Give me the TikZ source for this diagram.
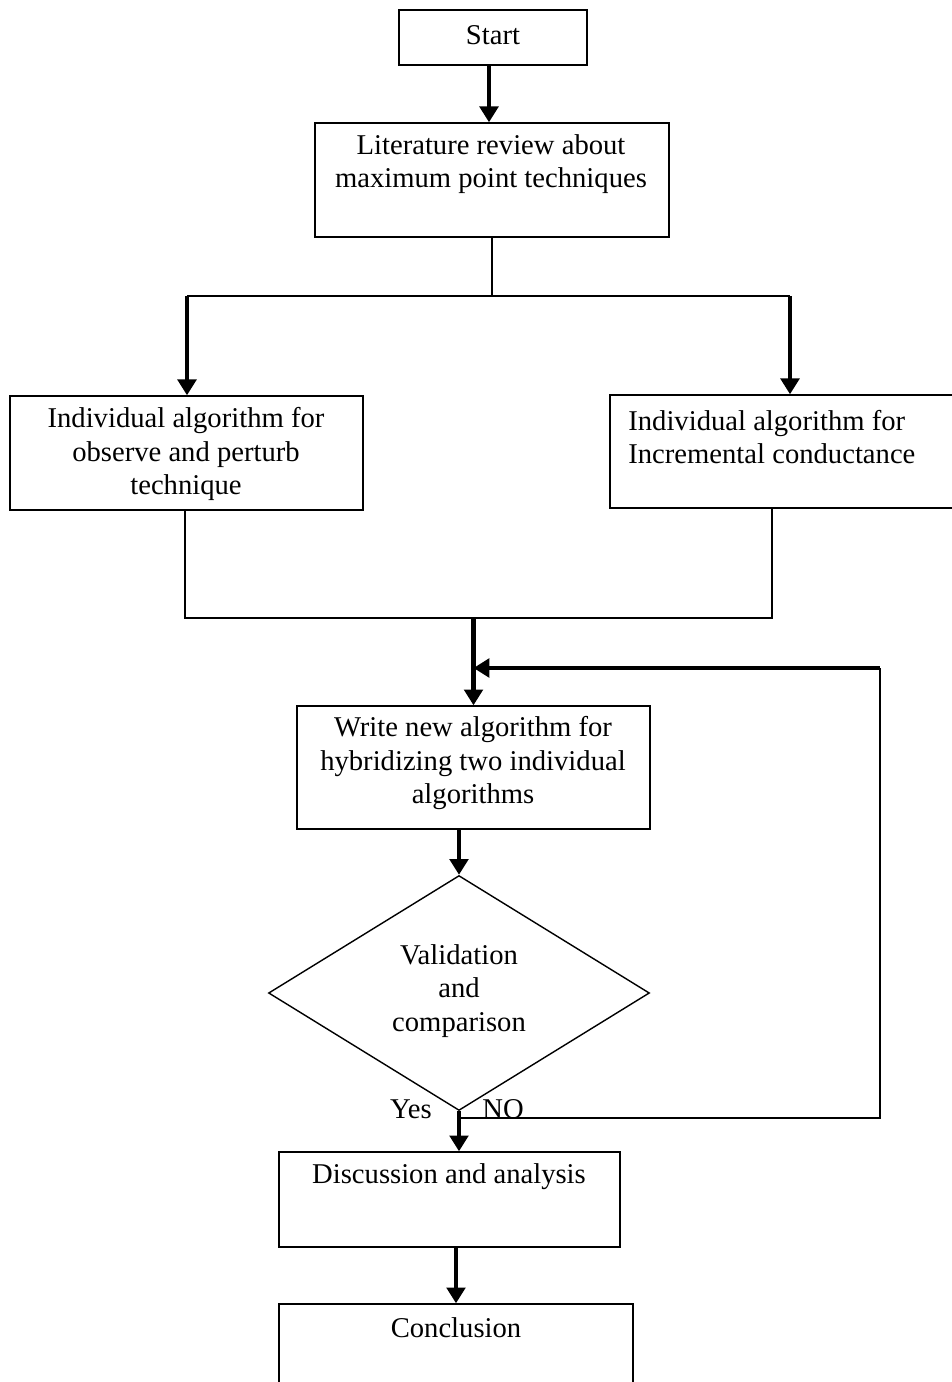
\documentclass[tikz,border=0pt]{standalone}
\usepackage{fontspec}
\setmainfont{Liberation Serif}
\usetikzlibrary{arrows.meta}
\usetikzlibrary{shapes.geometric}

\tikzset{
  box/.style={draw, line width=0.8pt, inner sep=0pt},
  txt/.style={align=center, inner sep=0pt, font=\fontsize{16.3}{18.9}\selectfont},
  flow/.style={line width=2.3pt, -{Triangle[width=10.5pt,length=9pt]}},
  link/.style={line width=0.75pt}
}

\begin{document}
\begin{tikzpicture}[x=0.02cm, y=-0.02cm]
    \useasboundingbox (0,0) rectangle (952,1382);
    \clip (0,0) rectangle (952,1382);

    % boxes
    \node[box, minimum width=3.76cm, minimum height=1.1cm] (start) at (493,37.5) {};
    \node[box, minimum width=7.08cm, minimum height=2.28cm] (lit) at (492,180) {};
    \node[box, minimum width=7.06cm, minimum height=2.28cm] (left) at (186.5,453) {};
    \node[box, minimum width=7.0cm, minimum height=2.26cm] (right) at (785,451.5) {};
    \node[box, minimum width=7.06cm, minimum height=2.46cm] (write) at (473.5,767.5) {};
    \node[box, diamond, minimum width=7.62cm, minimum height=4.7cm] (dec) at (459,993) {};
    \node[box, minimum width=6.82cm, minimum height=1.9cm] (disc) at (449.5,1199.5) {};
    \node[box, minimum width=7.08cm, minimum height=2.4cm] (concl) at (456,1364) {};

    % texts
    \node[txt] (startT) at (493,35) {Start};
    \node[txt] (litT) at (491,164) {Literature review about\\maximum point techniques};
    \node[txt] (leftT) at (186,454) {Individual algorithm for\\observe and perturb\\technique};
    \node[txt, anchor=west, align=left] (rightT) at (628,437) {Individual algorithm for\\Incremental conductance};
    \node[txt] (writeT) at (473,763) {Write new algorithm for\\hybridizing two individual\\algorithms};
    \node[txt] (decT) at (459,991) {Validation\\and\\comparison};
    \node[txt] (discT) at (449,1177) {Discussion and analysis};
    \node[txt] (conclT) at (456,1328) {Conclusion};
    \node[txt] (yes) at (411,1109) {Yes};
    \node[txt] (no) at (503,1109) {NO};

    % split and merge points
    \coordinate (splitL) at (187,296);
    \coordinate (splitR) at (790,296);
    \coordinate (mergeL) at (185,618);
    \coordinate (mergeR) at (772,618);
    \coordinate (loopB) at (880,1118);
    \coordinate (loopT) at (880,668);
    \coordinate (startOut) at (489,65);

    % connectors
    \draw[flow] (startOut) -- (startOut |- lit.north);
    \draw[link] (lit.south) -- (lit.south |- splitL);
    \draw[link] (splitL) -- (splitR);
    \draw[flow] (splitL) -- (splitL |- left.north);
    \draw[flow] (splitR) -- (splitR |- right.north);
    \draw[link] (mergeL |- left.south) -- (mergeL) -- (mergeR) -- (mergeR |- right.south);
    \draw[flow] (write.north |- mergeL) -- (write.north);
    \draw[flow] (dec.north |- write.south) -- (dec.north);
    \draw[link] (dec.south |- loopB) -- (loopB) -- (loopT);
    \draw[flow] (loopT) -- (write.north |- loopT);
    \draw[flow] (dec.south) -- (dec.south |- disc.north);
    \draw[flow] (concl.north |- disc.south) -- (concl.north);
\end{tikzpicture}
\end{document}
